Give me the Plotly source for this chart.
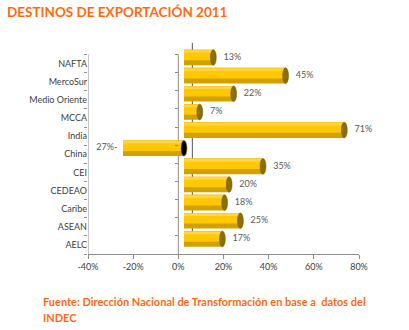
import plotly.graph_objects as go

categories = ["NAFTA", "MercoSur", "Medio Oriente", "MCCA", "India", "China",
              "CEI", "CEDEAO", "Caribe", "ASEAN", "AELC"]
values = [13, 45, 22, 7, 71, -27, 35, 20, 18, 25, 17]
x_tickvals = [-40, -20, 0, 20, 40, 60, 80]
x_ticktext = ["-40%", "-20%", "0%", "20%", "40%", "60%", "80%"]
title_text = "DESTINOS DE EXPORTACIÓN 2011"
source_line1 = "Fuente: Dirección Nacional de Transformación en base a\u00a0 datos del"
source_line2 = "INDEC"

labels = [f"{v}%" if v >= 0 else f"{abs(v)}%-" for v in values]

# style constants (3-D depth look)
DEPTH = 2.5      # horizontal shift of bars, in % units
LIFT = 0.33      # vertical shift of bars, in category units
WALL_X = 6.2     # back-wall line position
ORANGE = "#FF6A10"
AXIS_GRAY = "#8C8C8C"
TEXT_GRAY = "#404040"

idx = list(range(len(categories)))
yc = [i - LIFT for i in idx]
base = [DEPTH] * len(values)

fig = go.Figure()
# darker body (bottom shade)
fig.add_trace(go.Bar(orientation="h", x=values, y=yc, base=base, width=0.86,
                     offset=-0.43, marker=dict(color="#D2A100", line=dict(width=0)),
                     hoverinfo="skip", showlegend=False))
# main yellow body
fig.add_trace(go.Bar(orientation="h", x=values, y=yc, base=base, width=0.58,
                     offset=-0.43, marker=dict(color="#FFC800", line=dict(width=0)),
                     hoverinfo="skip", showlegend=False))
# top highlight
fig.add_trace(go.Bar(orientation="h", x=values, y=yc, base=base, width=0.14,
                     offset=-0.40, marker=dict(color="#FFD446", line=dict(width=0)),
                     hoverinfo="skip", showlegend=False))

# data labels
lab_x = [v + DEPTH + (4.5 if v >= 0 else -2.5) for v in values]
lab_pos = ["middle right" if v >= 0 else "middle left" for v in values]
fig.add_trace(go.Scatter(x=lab_x, y=yc, mode="text", text=labels,
                         textposition=lab_pos, cliponaxis=False,
                         textfont=dict(family="Lato", size=9, color="#595959"),
                         yaxis="y2", hoverinfo="skip", showlegend=False))

shapes = []
# end caps
for i, v in enumerate(values):
    cx = v + DEPTH if v >= 0 else DEPTH
    col = "#8A6E00" if v >= 0 else "#000000"
    shapes.append(dict(type="circle", xref="x", yref="y",
                       x0=cx - 1.3, x1=cx + 1.3, y0=yc[i] - 0.43, y1=yc[i] + 0.43,
                       fillcolor=col, line=dict(color="#6E5800", width=0.5),
                       layer="above"))
# axis lines
n = len(categories)
shapes.append(dict(type="line", xref="x", yref="y", x0=-40, x1=-40,
                   y0=-0.5, y1=n - 0.5, line=dict(color=AXIS_GRAY, width=1),
                   layer="below"))
shapes.append(dict(type="line", xref="x", yref="y", x0=0, x1=0,
                   y0=-0.5, y1=n - 0.5, line=dict(color=AXIS_GRAY, width=1),
                   layer="below"))
shapes.append(dict(type="line", xref="x", yref="paper", x0=WALL_X, x1=WALL_X,
                   y0=0.055, y1=1.03, line=dict(color="#555555", width=1),
                   layer="below"))

boundaries = [i - 0.5 for i in range(n + 1)]

fig.update_layout(
    width=409, height=330,
    margin=dict(l=88, r=50, t=48.5, b=76),
    paper_bgcolor="white", plot_bgcolor="white",
    barmode="overlay",
    showlegend=False,
    font=dict(family="Lato", size=9, color=TEXT_GRAY),
    title=dict(text=f"<b>{title_text}</b>", xref="container", yref="container",
               x=7 / 409, y=1 - 12 / 330, xanchor="left", yanchor="middle",
               font=dict(family="Lato", size=13.5, color=ORANGE)),
    xaxis=dict(range=[-40, 80], tickvals=x_tickvals, ticktext=x_ticktext,
               showgrid=False, zeroline=False, showline=True, linecolor=AXIS_GRAY,
               linewidth=1, ticks="outside", ticklen=4, tickcolor=AXIS_GRAY,
               tickfont=dict(family="Lato", size=9, color=TEXT_GRAY)),
    yaxis=dict(range=[n - 0.5, -0.8], tickvals=idx, ticktext=categories,
               showgrid=False, zeroline=False, showline=False, ticks="",
               minor=dict(tickvals=boundaries, ticks="outside", ticklen=3,
                          tickcolor=AXIS_GRAY, showgrid=False),
               tickfont=dict(family="Lato", size=9, color=TEXT_GRAY)),
    yaxis2=dict(matches="y", overlaying="y", anchor="free", position=40 / 120,
                side="left", showgrid=False, zeroline=False, showline=False,
                showticklabels=False, ticks="",
                minor=dict(tickvals=boundaries, ticks="outside", ticklen=3,
                           tickcolor=AXIS_GRAY, showgrid=False)),
    shapes=shapes,
    annotations=[
        dict(text=f"<b>{source_line1}</b>", xref="paper", yref="paper",
             x=(41 - 88) / 271, y=(254 - 302) / 205.5, xanchor="left",
             yanchor="middle", showarrow=False,
             font=dict(family="Lato", size=11, color=ORANGE)),
        dict(text=f"<b>{source_line2}</b>", xref="paper", yref="paper",
             x=(41 - 88) / 271, y=(254 - 318) / 205.5, xanchor="left",
             yanchor="middle", showarrow=False,
             font=dict(family="Lato", size=11, color=ORANGE)),
    ],
)

fig.write_html("out.html")
